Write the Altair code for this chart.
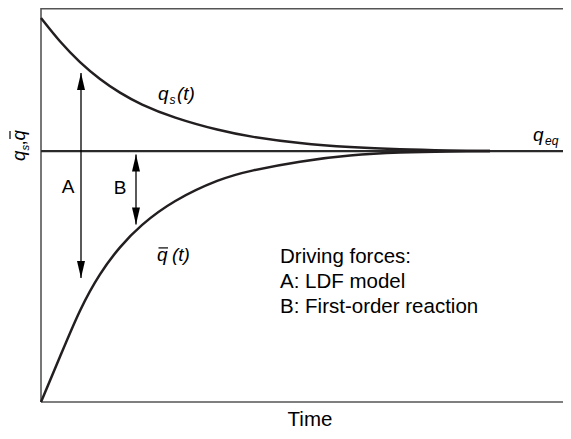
import altair as alt
import pandas as pd

# ---- data ----
time = [0, 0.19, 0.39, 0.59, 0.79, 0.99, 1.32, 1.79, 2.09, 2.59, 3.09, 3.59, 4.09, 4.49]
q_s = [1.530, 1.434, 1.352, 1.285, 1.231, 1.187, 1.133, 1.081, 1.057, 1.030, 1.015, 1.006, 1.002, 1.000]
q_bar = [0.0, 0.180, 0.372, 0.515, 0.620, 0.703, 0.803, 0.890, 0.922, 0.960, 0.984, 0.995, 0.999, 1.000]
q_eq = 1.0
t_max = 5.22
q_max = 1.57

arrow_names = ["A", "B"]
arrow_t = [0.40, 0.95]
arrow_top = [1.311, 0.986]
arrow_bottom = [0.494, 0.707]
arrow_label_t = [0.27, 0.79]
arrow_label_q = [0.833, 0.829]

legend_lines = ["Driving forces:", "A: LDF model", "B: First-order reaction"]
legend_t = [2.39, 2.39, 2.39]
legend_q = [0.554, 0.454, 0.355]

# curve labels (italic symbol pieces)
sym_text = ["q", "s", "(t)", "q", "(t)", "q", "eq"]
sym_t = [1.17, 1.285, 1.36, 1.16, 1.31, 4.92, 5.04]
sym_q = [1.203, 1.187, 1.203, 0.562, 0.562, 1.040, 1.024]
sym_size = [19, 12, 19, 19, 19, 19, 12]
bar_t = [1.175]
bar_t2 = [1.27]
bar_q = [0.614]

FONT = "Liberation Sans"
INK = "#231f20"
W, H = 522, 394

xs = alt.Scale(domain=[0, t_max], nice=False, zero=False)
ys = alt.Scale(domain=[0, q_max], nice=False, zero=False)


def X(f="t"):
    return alt.X(f"{f}:Q", scale=xs, axis=None)


def Y(f="q"):
    return alt.Y(f"{f}:Q", scale=ys, axis=None)


one = pd.DataFrame({"k": [0]})

frame_left = alt.Chart(one).mark_rule(color="#555555", strokeWidth=1.6).encode(
    x=alt.value(0), y=alt.value(0), y2=alt.value(H))
frame_bottom = alt.Chart(one).mark_rule(color="#555555", strokeWidth=1.6).encode(
    x=alt.value(0), x2=alt.value(W), y=alt.value(H))
frame_top = alt.Chart(one).mark_rule(color="#555555", strokeWidth=1.6).encode(
    x=alt.value(0), x2=alt.value(W), y=alt.value(0.8))

eq_df = pd.DataFrame({"t": [0], "t2": [t_max], "q": [q_eq]})
eq_line = alt.Chart(eq_df).mark_rule(color="#2a2a2a", strokeWidth=2.2).encode(
    x=X(), x2="t2:Q", y=Y())

n = len(time)
curves = pd.DataFrame({
    "t": time + time,
    "q": q_s + q_bar,
    "series": ["q_s"] * n + ["q_bar"] * n,
})
lines = alt.Chart(curves).mark_line(interpolate="basis", color=INK, strokeWidth=2.5).encode(
    x=X(), y=Y(), detail="series:N")

arrows = pd.DataFrame({"name": arrow_names, "t": arrow_t, "top": arrow_top, "bottom": arrow_bottom})
shafts = alt.Chart(arrows).mark_rule(color="black", strokeWidth=1.3).encode(
    x=X(), y=Y("top"), y2="bottom:Q")
heads_up = alt.Chart(arrows).mark_point(
    shape="M0,-1L0.47,1L-0.47,1Z", size=289, filled=True, color="black", opacity=1,
    strokeWidth=0, yOffset=8.5).encode(x=X(), y=Y("top"))
heads_down = alt.Chart(arrows).mark_point(
    shape="M0,1L0.47,-1L-0.47,-1Z", size=289, filled=True, color="black", opacity=1,
    strokeWidth=0, yOffset=-8.5).encode(x=X(), y=Y("bottom"))

arrow_lab_df = pd.DataFrame({"text": arrow_names, "t": arrow_label_t, "q": arrow_label_q})
arrow_labels = alt.Chart(arrow_lab_df).mark_text(
    font=FONT, fontSize=19, align="center", baseline="alphabetic", color="black").encode(
    x=X(), y=Y(), text="text:N")

legend_df = pd.DataFrame({"text": legend_lines, "t": legend_t, "q": legend_q})
legend_text = alt.Chart(legend_df).mark_text(
    font=FONT, fontSize=20.5, align="left", baseline="alphabetic", color="black").encode(
    x=X(), y=Y(), text="text:N")

sym_df = pd.DataFrame({"text": sym_text, "t": sym_t, "q": sym_q, "size": sym_size})
sym_labels = alt.Chart(sym_df).mark_text(
    font=FONT, fontStyle="italic", align="left", baseline="alphabetic", color="black").encode(
    x=X(), y=Y(), text="text:N", size=alt.Size("size:Q", scale=None))

bar_df = pd.DataFrame({"t": bar_t, "t2": bar_t2, "q": bar_q})
qbar_bar = alt.Chart(bar_df).mark_rule(color="black", strokeWidth=1.2).encode(
    x=X(), x2="t2:Q", y=Y())

# y axis title pieces: q_s, q-bar (rotated)
ytitle_text = ["q", "s", ",", "q"]
ytitle_x = [-16, -12, -16, -16]
ytitle_y = [153, 142.5, 137.5, 132.5]
ytitle_size = [18.5, 11.5, 18.5, 18.5]
ytitle_layers = []
for txt, px, py, fs in zip(ytitle_text, ytitle_x, ytitle_y, ytitle_size):
    ytitle_layers.append(
        alt.Chart(one).mark_text(
            text=txt, font=FONT, fontStyle="italic" if txt != "," else "normal",
            fontSize=fs, angle=270, align="left", baseline="alphabetic", color="black"
        ).encode(x=alt.value(px), y=alt.value(py))
    )
ytitle_bar = alt.Chart(one).mark_rule(color="black", strokeWidth=1.2).encode(
    x=alt.value(-31), y=alt.value(123), y2=alt.value(131))

time_title = alt.Chart(one).mark_text(
    text="Time", font=FONT, fontSize=20.5, align="center", baseline="alphabetic", color="black"
).encode(x=alt.value(269), y=alt.value(H + 24))

chart = alt.layer(
    frame_left, frame_bottom, frame_top, eq_line, lines, shafts, heads_up, heads_down,
    arrow_labels, legend_text, sym_labels, qbar_bar, *ytitle_layers, ytitle_bar, time_title
).properties(
    width=W, height=H,
    autosize=alt.AutoSizeParams(type="none"),
    padding={"left": 33, "top": 0, "right": 0, "bottom": 29},
).configure_view(strokeWidth=0)

chart.save("out.html", embed_options={"renderer": "svg", "actions": False})
